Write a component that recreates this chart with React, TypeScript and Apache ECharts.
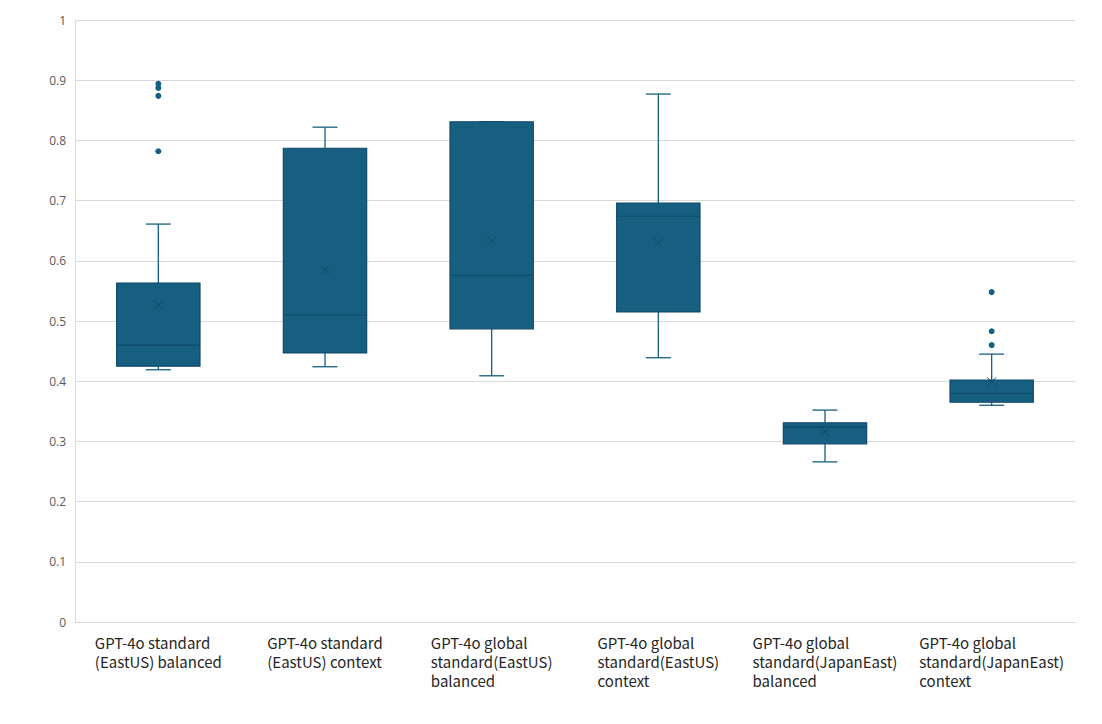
import React, { useEffect, useRef } from "react";
import * as echarts from "echarts";

const categories = [
  "GPT-4o standard\n(EastUS) balanced",
  "GPT-4o standard\n(EastUS) context",
  "GPT-4o global\nstandard(EastUS)\nbalanced",
  "GPT-4o global\nstandard(EastUS)\ncontext",
  "GPT-4o global\nstandard(JapanEast)\nbalanced",
  "GPT-4o global\nstandard(JapanEast)\ncontext",
];
// [min, Q1, median, Q3, max]
const boxStats = [
  [0.419, 0.425, 0.46, 0.563, 0.661],
  [0.424, 0.447, 0.51, 0.787, 0.822],
  [0.409, 0.487, 0.576, 0.831, 0.831],
  [0.439, 0.515, 0.674, 0.696, 0.877],
  [0.266, 0.296, 0.324, 0.331, 0.352],
  [0.36, 0.365, 0.38, 0.402, 0.445],
];
const means = [0.527, 0.585, 0.633, 0.63, 0.316, 0.399];
// [categoryIndex, value]
const outliers = [
  [0, 0.894],
  [0, 0.887],
  [0, 0.874],
  [0, 0.782],
  [5, 0.548],
  [5, 0.483],
  [5, 0.46],
];
const yTicks = [0, 0.1, 0.2, 0.3, 0.4, 0.5, 0.6, 0.7, 0.8, 0.9, 1];

const FILL = "#175f80";
const EDGE = "#0f4a68";
const LABEL_FONT = "15px 'Noto Sans CJK JP'";

export default function App() {
  const ref = useRef<HTMLDivElement>(null);
  useEffect(() => {
    const chart = echarts.init(ref.current!, undefined, { renderer: "svg" });
    const data = boxStats.map((s, i) => [i, ...s, means[i]]);
    chart.setOption({
      animation: false,
      grid: { left: 75, right: 27, top: 20, bottom: 102 },
      xAxis: {
        type: "category",
        data: categories,
        axisLine: { show: true, lineStyle: { color: "#d9d9d9" } },
        axisTick: { show: false },
        axisLabel: { show: false },
        splitLine: { show: false },
      },
      yAxis: {
        type: "value",
        min: 0,
        max: 1,
        interval: 0.1,
        axisLine: { show: true, lineStyle: { color: "#d9d9d9" } },
        axisTick: { show: false },
        splitLine: { show: true, lineStyle: { color: "#d9d9d9" } },
        axisLabel: {
          color: "#595959",
          fontSize: 12,
          fontFamily: "'Open Sans', sans-serif",
          margin: 9,
          formatter: (v: number) => {
            const t = yTicks.find((x) => Math.abs(x - v) < 1e-6);
            return String(t !== undefined ? t : v);
          },
        },
      },
      series: [
        {
          type: "custom",
          data,
          encode: { x: 0, y: [1, 2, 3, 4, 5] },
          renderItem: (params: any, api: any) => {
            const i = api.value(0);
            const mn = api.value(1), q1 = api.value(2), md = api.value(3), q3 = api.value(4), mx = api.value(5), mean = api.value(6);
            const band = api.size([1, 0])[0];
            const bw = band * 0.5;
            const cw = band * 0.15;
            const cx = api.coord([i, 0])[0];
            const y = (v: number) => api.coord([i, v])[1];
            const wl = { stroke: FILL, lineWidth: 1.3 };
            const children: any[] = [
              { type: "line", shape: { x1: cx, y1: y(q3), x2: cx, y2: y(mx) }, style: wl },
              { type: "line", shape: { x1: cx, y1: y(q1), x2: cx, y2: y(mn) }, style: wl },
              { type: "line", shape: { x1: cx - cw / 2, y1: y(mx), x2: cx + cw / 2, y2: y(mx) }, style: wl },
              { type: "line", shape: { x1: cx - cw / 2, y1: y(mn), x2: cx + cw / 2, y2: y(mn) }, style: wl },
              {
                type: "rect",
                shape: { x: cx - bw / 2, y: y(q3), width: bw, height: y(q1) - y(q3) },
                style: { fill: FILL, stroke: EDGE, lineWidth: 1.2 },
              },
              { type: "line", shape: { x1: cx - bw / 2, y1: y(md), x2: cx + bw / 2, y2: y(md) }, style: { stroke: EDGE, lineWidth: 1.2 } },
              { type: "line", shape: { x1: cx - 4.5, y1: y(mean) - 4.5, x2: cx + 4.5, y2: y(mean) + 4.5 }, style: { stroke: EDGE, lineWidth: 1 } },
              { type: "line", shape: { x1: cx - 4.5, y1: y(mean) + 4.5, x2: cx + 4.5, y2: y(mean) - 4.5 }, style: { stroke: EDGE, lineWidth: 1 } },
            ];
            return { type: "group", children };
          },
        },
        {
          type: "scatter",
          data: outliers,
          symbol: "circle",
          symbolSize: 6,
          itemStyle: { color: FILL, opacity: 1 },
        },
      ],
    });

    // category labels: block centred on the category, lines left-aligned
    const canvas = document.createElement("canvas");
    const ctx = canvas.getContext("2d")!;
    ctx.font = LABEL_FONT;
    const bottomY = chart.convertToPixel({ yAxisIndex: 0 }, 0) as number;
    const graphics = categories.map((c, i) => {
      const px = chart.convertToPixel({ xAxisIndex: 0 }, i) as number;
      const w = Math.max(...c.split("\n").map((l) => ctx.measureText(l).width));
      return {
        type: "text",
        x: px - w / 2,
        y: bottomY + 11,
        style: {
          text: c,
          font: LABEL_FONT,
          fill: "#262626",
          textAlign: "left",
          textVerticalAlign: "top",
          lineHeight: 19,
        },
      };
    });
    chart.setOption({ graphic: graphics });
    return () => chart.dispose();
  }, []);
  return (
    <div
      ref={ref}
      style={{ position: "absolute", left: 0, top: 0, width: 1102, height: 724, background: "#fff" }}
    />
  );
}
